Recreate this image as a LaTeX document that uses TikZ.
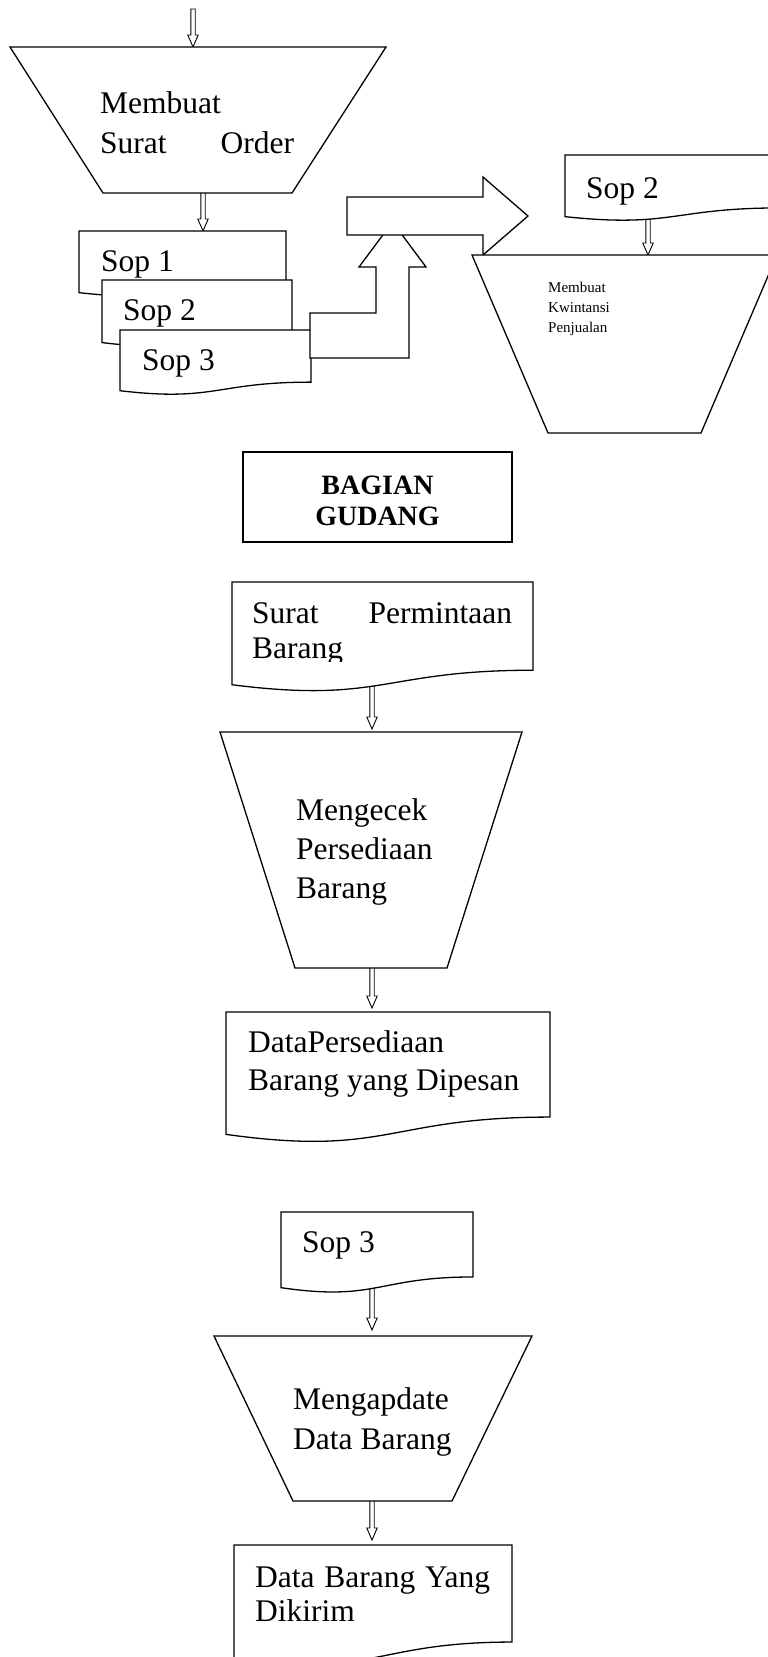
\documentclass[tikz,border=0pt]{standalone}
\usepackage{fontspec}
\setmainfont{Liberation Serif}
\usetikzlibrary{calc}

% document symbol: top-left corner (x,y), width w, height h, wavy bottom edge
\newcommand\docshape[4]{%
  \draw[shapeline] (#1,#2) -- ({#1+#3},#2) -- ({#1+#3},{#2+0.802*#4})
    .. controls ({#1+#3/2},{#2+0.802*#4}) and ({#1+#3/2},{#2+1.1075*#4})
    .. (#1,{#2+0.934*#4}) -- cycle;}

\begin{document}
\begin{tikzpicture}[x=1pt,y=-1pt,
  shapeline/.style={draw=black, line width=1.3pt, fill=white, line join=miter},
  dblarrow/.style={draw=black, line width=0.9pt, fill=white, line join=miter,
    to path={($(\tikztostart)+(-2.2,0)$) -- ($(\tikztotarget)+(-2.2,-12)$)
      -- ($(\tikztotarget)+(-5.2,-12)$) -- (\tikztotarget)
      -- ($(\tikztotarget)+(5.2,-12)$) -- ($(\tikztotarget)+(2.2,-12)$)
      -- ($(\tikztostart)+(2.2,0)$) -- cycle}},
  txt/.style={anchor=base west, inner sep=0pt, font=\fontsize{31.5}{40}\selectfont},
  txtsingle/.style={txt, font=\fontsize{31.5}{32}\selectfont},
  txtsmall/.style={anchor=base west, inner sep=0pt, font=\fontsize{15}{20}\selectfont},
  title/.style={anchor=base, inner sep=0pt, font=\fontsize{28}{31}\selectfont\bfseries},
]
\useasboundingbox (0,0) rectangle (768,1657);
\clip (0,0) rectangle (768,1657);
\fill[white] (0,0) rectangle (768,1657);

% arrow end points
\coordinate (in0)   at (193,9);    \coordinate (t1in)  at (193,47);
\coordinate (t1out) at (203,190);  \coordinate (sop1in) at (203,231);
\coordinate (s2out) at (648,214);  \coordinate (t2in)  at (648,255);
\coordinate (spbout) at (372,680); \coordinate (t3in)  at (372,729);
\coordinate (t3out) at (372,966);  \coordinate (dpin)  at (372,1008);
\coordinate (s3out) at (372,1282); \coordinate (t4in)  at (372,1330);
\coordinate (t4out) at (372,1499); \coordinate (dbin)  at (372,1540);

% double-line flow arrows
\draw[dblarrow] (in0) to (t1in);
\draw[dblarrow] (t1out) to (sop1in);
\draw[dblarrow] (s2out) to (t2in);
\draw[dblarrow] (spbout) to (t3in);
\draw[dblarrow] (t3out) to (dpin);
\draw[dblarrow] (s3out) to (t4in);
\draw[dblarrow] (t4out) to (dbin);

% --- Membuat Surat Order ---
\draw[shapeline] (10,47) -- (386,47) -- (292,193) -- (103,193) -- cycle;
\node[txt] (order) at (100,113) {\vtop{\hbox{Membuat}\hbox{\makebox[194pt][s]{Surat Order}}}};

% stacked documents Sop 1..3
\docshape{79}{231}{207}{66}
\node[txt] (sop1) at (101,271) {Sop 1};
\docshape{102}{280}{190}{67}
\node[txt] (sop2) at (123,320) {Sop 2};
\docshape{120}{330}{191}{65}
\node[txt] (sop3) at (142,370) {Sop 3};

% bent block arrow leaving Sop 3
\draw[shapeline] (310,313) -- (376,313) -- (376,267) -- (359,267) -- (392.5,222)
  -- (426,267) -- (409,267) -- (409,358) -- (310,358) -- cycle;
% block arrow pointing right
\draw[shapeline] (347,197) -- (483,197) -- (483,177) -- (528,216) -- (483,255)
  -- (483,235) -- (347,235) -- cycle;

% --- Sop 2 and Membuat Kwintansi Penjualan ---
\docshape{565}{155}{215}{66}
\node[txt] (sop2b) at (586,198) {Sop 2};
\draw[shapeline] (472,255) -- (777,255) -- (701,433) -- (548,433) -- cycle;
\node[txtsmall] (kwit) at (548,292) {\vtop{\hbox{Membuat}\hbox{Kwintansi}\hbox{Penjualan}}};

% --- Bagian Gudang ---
\draw[shapeline] (243,452) rectangle (512,542);
\node[title] (gudang) at (377.5,494) {\vtop{\hbox to 0pt{\hss BAGIAN\hss}\hbox to 0pt{\hss GUDANG\hss}}};

\docshape{232}{582}{301}{110}
\begin{scope}
  \clip (232,582) rectangle (533,661);
  \node[txtsingle, font=\fontsize{31.5}{35}\selectfont] (spb) at (252,623) {\vtop{\hbox{\makebox[260pt][s]{Surat Permintaan}}\hbox{Barang}}};
\end{scope}

\draw[shapeline] (220,732) -- (522,732) -- (447,968) -- (295,968) -- cycle;
\node[txtsingle, font=\fontsize{31.5}{39}\selectfont] (cek) at (296,820) {\vtop{\hbox{Mengecek}\hbox{Persediaan}\hbox{Barang}}};

\docshape{226}{1012}{324}{131}
\node[txtsingle, font=\fontsize{31.5}{38}\selectfont] (dp) at (248,1052) {\vtop{\hbox{DataPersediaan}\hbox{Barang yang Dipesan}}};

\docshape{281}{1212}{192}{81}
\node[txt] (sop3b) at (302,1252) {Sop 3};

\draw[shapeline] (214,1336) -- (532,1336) -- (452,1501) -- (293,1501) -- cycle;
\node[txt] (upd) at (293,1409) {\vtop{\hbox{Mengapdate}\hbox{Data Barang}}};

\docshape{234}{1545}{278}{121}
\node[txtsingle, font=\fontsize{31.5}{34}\selectfont] (db) at (255,1587) {\vtop{\hbox{\makebox[235pt][s]{Data Barang Yang}}\hbox{Dikirim}}};
\end{tikzpicture}
\end{document}
